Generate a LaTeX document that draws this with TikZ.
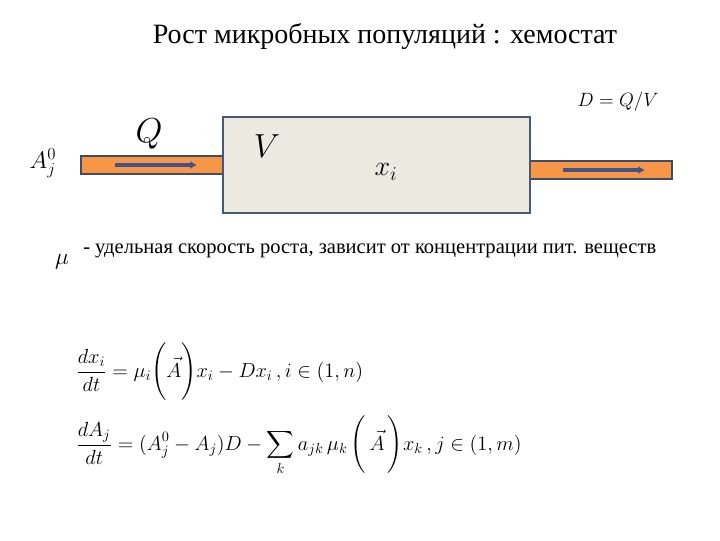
\RequirePackage{fix-cm}
\documentclass[tikz,border=0pt]{standalone}
\usepackage{amsmath}
\usepackage{fontspec}
\setmainfont{Liberation Serif}
\newfontfamily\serifru{Liberation Serif}
\definecolor{pipeorange}{RGB}{247,150,70}
\definecolor{pipeedge}{RGB}{62,76,104}
\definecolor{flowblue}{RGB}{64,84,140}
\definecolor{tankfill}{RGB}{236,233,224}
\definecolor{tankedge}{RGB}{72,88,122}
\tikzset{
  tank/.style={draw=tankedge,fill=tankfill,line width=1.5pt},
  pipe/.style={draw=pipeedge,fill=pipeorange,line width=1.2pt},
  flow/.style={draw=flowblue,line width=2.6pt,-{Latex[length=5pt,width=6pt]}},
  lbl/.style={inner sep=0.75pt},
}
\usetikzlibrary{arrows.meta}
\begin{document}
\begin{tikzpicture}[x=0.75pt,y=0.75pt,yscale=-1,xscale=1]
\useasboundingbox (0,0) rectangle (720,540);

% pipes and tank
\draw[pipe] (81,156) rectangle (226,174);
\draw[pipe] (527,161) rectangle (672,179);
\draw[tank] (223,117) rectangle (530,213);
\coordinate (inA) at (115,165);
\coordinate (inB) at (197,165);
\coordinate (outA) at (563,170);
\coordinate (outB) at (645,170);
\draw[flow] (inA) -- (inB);
\draw[flow] (outA) -- (outB);

% Text Node
\node[lbl] (title) at (385,36) {\serifru\fontsize{21}{24}\selectfont Рост микробных популяций : хемостат};
% Text Node
\node[lbl] (feed) at (43,163) {\fontsize{18}{22}\selectfont $A_j^0$};
% Text Node
\node[lbl] (flowrate) at (149,134) {\fontsize{26}{30}\selectfont $Q$};
% Text Node
\node[lbl] (volume) at (267,146) {\fontsize{25}{28}\selectfont $V$};
% Text Node
\node[lbl] (biomass) at (386,172) {\fontsize{21}{24}\selectfont $x_i$};
% Text Node
\node[lbl] (dilution) at (618,102) {\fontsize{14.4}{16}\selectfont $D=Q/V$};
% Text Node
\node[lbl] (mu) at (62,262) {\fontsize{17.5}{20}\selectfont $\mu$};
\node[lbl,anchor=west] (mutext) at (82,251) {\serifru\fontsize{15.4}{18}\selectfont - удельная скорость роста, зависит от концентрации пит. веществ};
% Text Node
\node[lbl,anchor=west] (eqx) at (75,372) {\fontsize{15.3}{19}\selectfont
  $\displaystyle \frac{dx_i}{dt}=\mu_i\Biggl(\vec{A}\Biggr)x_i-Dx_i\,, i\in(1,n)$};
% Text Node
\node[lbl,anchor=west] (eqA) at (75,445) {\fontsize{15.3}{19}\selectfont
  $\displaystyle \frac{dA_j}{dt}=(A_j^0-A_j)D-\sum_k a_{jk}\,\mu_k\,\Biggl(\,\vec{A}\,\Biggr)x_k\,, j\in(1,m)$};

\end{tikzpicture}
\end{document}
